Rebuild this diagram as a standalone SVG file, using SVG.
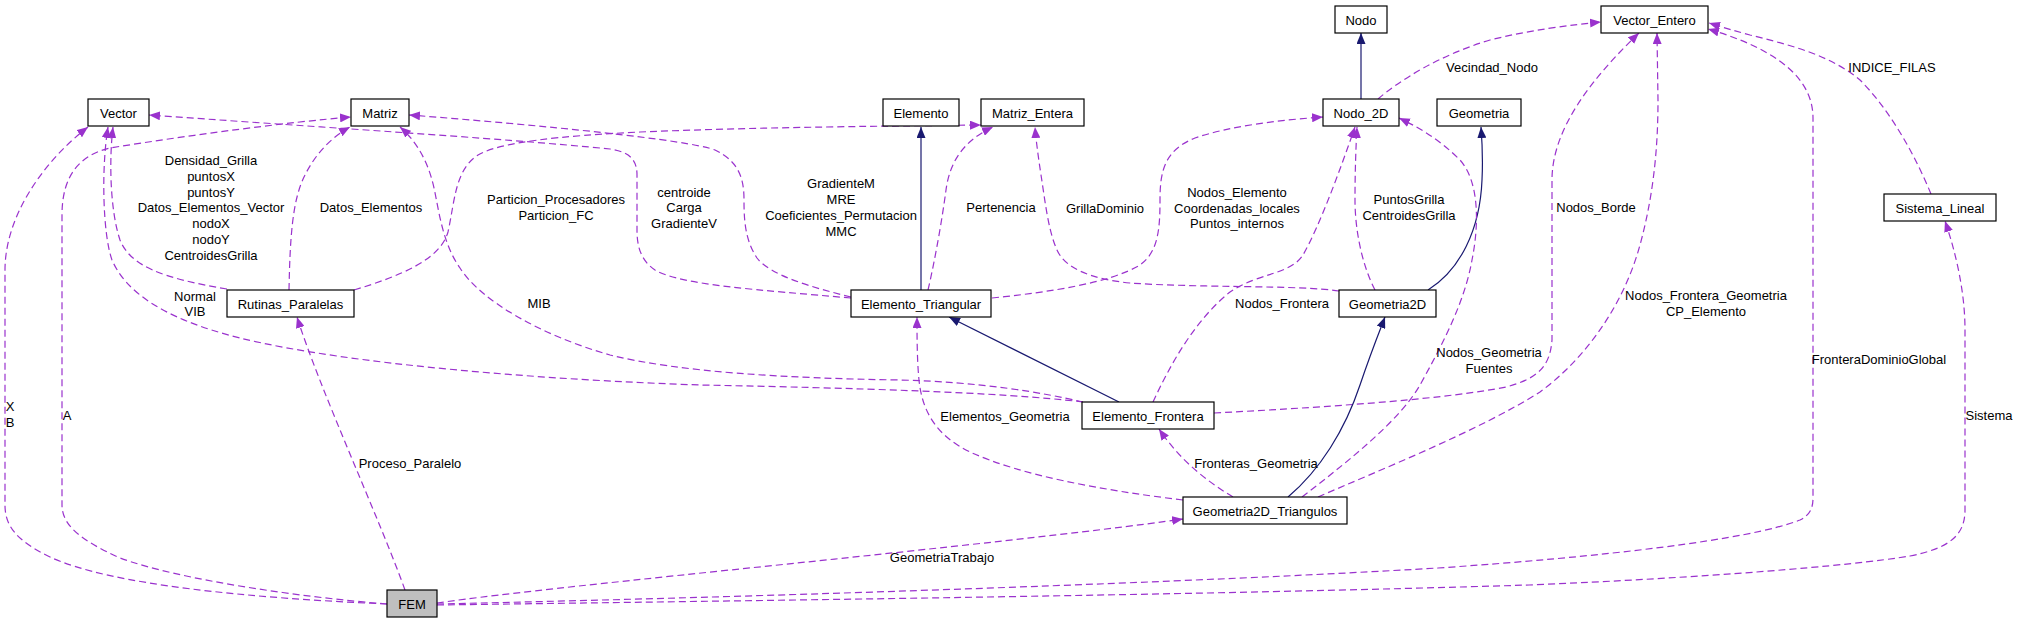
<svg xmlns="http://www.w3.org/2000/svg" width="2019" height="624" viewBox="0 0 2019 624">
<style>
text{font-family:"Liberation Sans",Arial,sans-serif;font-size:13px;fill:#000;text-anchor:middle}
.n rect{fill:#fff;stroke:#000;stroke-width:1.2}
.n .sh{fill:none;stroke:#808080;stroke-width:1.2}
.u{fill:none;stroke:#9a32cd;stroke-width:1.2;stroke-dasharray:7,4;marker-end:url(#ap)}
.i{fill:none;stroke:#191970;stroke-width:1.2;marker-end:url(#an)}
</style>
<defs>
<marker id="ap" viewBox="0 0 11 9" refX="11" refY="4.5" markerWidth="11" markerHeight="9" markerUnits="userSpaceOnUse" orient="auto"><path d="M0,0 L11,4.5 L0,9 z" fill="#9a32cd"/></marker>
<marker id="an" viewBox="0 0 11 9" refX="11" refY="4.5" markerWidth="11" markerHeight="9" markerUnits="userSpaceOnUse" orient="auto"><path d="M0,0 L11,4.5 L0,9 z" fill="#191970"/></marker>
</defs>
<rect width="2019" height="624" fill="#fff"/>
<g id="edges">
<g><path class="u" d="M387,604 C250,598 110,585 50,557 C15,540 5,525 5,505 L5,270 C5,215 45,160 88,127"/><text x="10" y="411">X</text><text x="10" y="427">B</text></g>
<g><path class="u" d="M387,604 C300,597 180,580 120,558 C80,540 62,525 62,505 L62,215 C62,175 80,155 110,148 C190,135 290,122 351,117"/><text x="67" y="420">A</text></g>
<g><path class="u" d="M405,590 C380,520 320,390 297,317"/><text x="410" y="468">Proceso_Paralelo</text></g>
<g><path class="u" d="M437,603 C560,585 1000,545 1183,519"/><text x="942" y="562">GeometriaTrabajo</text></g>
<g><path class="u" d="M437,604 C800,596 1200,582 1438,568 C1600,557 1750,540 1800,520 C1810,515 1813,508 1813,498 L1813,118 C1813,80 1780,50 1708,29"/><text x="1879" y="364">FronteraDominioGlobal</text></g>
<g><path class="u" d="M437,605 C800,600 1200,595 1529,585 C1700,578 1850,566 1910,556 C1950,548 1965,535 1965,510 L1965,330 C1965,290 1955,250 1945,221"/><text x="1989" y="420">Sistema</text></g>
<g><path class="u" d="M227,289 C160,278 130,265 120,240 C110,210 109,160 113,127"/><text x="211" y="165">Densidad_Grilla</text><text x="211" y="181">puntosX</text><text x="211" y="197">puntosY</text><text x="211" y="212">Datos_Elementos_Vector</text><text x="211" y="228">nodoX</text><text x="211" y="244">nodoY</text><text x="211" y="260">CentroidesGrilla</text></g>
<g><path class="u" d="M289,290 C290,240 292,200 305,175 C315,155 330,138 350,127"/><text x="371" y="212">Datos_Elementos</text></g>
<g><path class="u" d="M354,290 C400,276 440,260 448,232 C455,200 455,170 478,155 C500,142 560,136 640,132 C760,127 900,126 981,125"/><text x="556" y="204">Particion_Procesadores</text><text x="556" y="220">Particion_FC</text></g>
<g><path class="u" d="M851,298 C760,290 680,285 655,270 C640,260 637,245 637,230 L637,175 C637,160 630,152 610,149 C500,138 300,126 149,115"/><text x="684" y="197">centroide</text><text x="684" y="212">Carga</text><text x="684" y="228">GradienteV</text></g>
<g><path class="u" d="M851,297 C810,287 770,275 757,258 C745,240 744,220 744,200 C744,180 740,162 715,150 C690,140 540,125 409,115"/><text x="841" y="188">GradienteM</text><text x="841" y="204">MRE</text><text x="841" y="220">Coeficientes_Permutacion</text><text x="841" y="236">MMC</text></g>
<g><path class="u" d="M928,290 C935,260 942,220 946,190 C950,160 965,140 993,127"/><text x="1001" y="212">Pertenencia</text></g>
<g><path class="u" d="M992,298 C1050,292 1110,283 1140,265 C1158,252 1160,230 1160,200 C1160,170 1165,150 1195,138 C1230,126 1280,120 1323,117"/><text x="1237" y="197">Nodos_Elemento</text><text x="1237" y="213">Coordenadas_locales</text><text x="1237" y="228">Puntos_internos</text></g>
<g><path class="i" d="M921,290 L921,127"/></g>
<g><path class="i" d="M1119,402 L949,317"/></g>
<g><path class="u" d="M1083,402 C1000,392 850,388 700,385 C550,380 350,365 240,338 C160,318 125,290 112,260 C103,235 101,170 108,127"/><text x="195" y="301">Normal</text><text x="195" y="316">VIB</text></g>
<g><path class="u" d="M1083,402 C1040,392 980,382 900,380 C780,378 680,372 610,355 C540,335 480,300 460,268 C440,240 438,200 432,180 C426,158 415,140 400,127"/><text x="539" y="308">MIB</text></g>
<g><path class="u" d="M1153,402 C1170,365 1195,320 1230,292 C1260,272 1290,275 1303,255 C1320,225 1340,170 1355,127"/><text x="1282" y="308">Nodos_Frontera</text></g>
<g><path class="u" d="M1214,413 C1350,406 1450,398 1506,387 C1540,378 1550,365 1552,340 L1552,180 C1552,130 1590,80 1639,33"/><text x="1596" y="212">Nodos_Borde</text></g>
<g><path class="i" d="M1428,290 C1460,270 1480,230 1482,180 C1483,160 1482,140 1481,127"/></g>
<g><path class="u" d="M1339,291 C1300,285 1200,288 1130,283 C1090,279 1065,268 1057,250 C1048,230 1045,200 1041,175 C1038,155 1036,140 1035,127"/><text x="1105" y="213">GrillaDominio</text></g>
<g><path class="u" d="M1375,290 C1362,265 1355,230 1355,200 C1355,170 1356,145 1357,127"/><text x="1409" y="204">PuntosGrilla</text><text x="1409" y="220">CentroidesGrilla</text></g>
<g><path class="i" d="M1288,497 C1320,470 1345,430 1360,385 C1370,355 1378,335 1385,317"/></g>
<g><path class="u" d="M1183,500 C1100,490 1020,475 970,452 C935,435 922,410 919,380 C917,360 917,335 917,317"/><text x="1005" y="421">Elementos_Geometria</text></g>
<g><path class="u" d="M1233,497 C1205,480 1180,460 1159,429"/><text x="1256" y="468">Fronteras_Geometria</text></g>
<g><path class="u" d="M1302,497 C1350,460 1400,420 1420,385 C1445,340 1465,300 1472,260 C1480,220 1478,180 1460,160 C1440,140 1420,128 1399,118"/><text x="1489" y="357">Nodos_Geometria</text><text x="1489" y="373">Fuentes</text></g>
<g><path class="u" d="M1318,497 C1380,470 1480,430 1540,392 C1590,355 1625,300 1640,245 C1655,190 1658,140 1658,100 L1657,33"/><text x="1706" y="300">Nodos_Frontera_Geometria</text><text x="1706" y="316">CP_Elemento</text></g>
<g><path class="i" d="M1361,99 L1361,33"/></g>
<g><path class="u" d="M1378,99 C1400,80 1440,55 1490,40 C1530,30 1570,25 1601,22"/><text x="1492" y="72">Vecindad_Nodo</text></g>
<g><path class="u" d="M1931,194 C1915,155 1890,110 1860,80 C1830,55 1790,45 1750,35 C1735,31 1722,27 1709,23"/><text x="1892" y="72">INDICE_FILAS</text></g>
</g>
<g id="node-Vector" class="n"><rect x="88" y="99" width="61" height="27"/><text x="118.5" y="117.5">Vector</text></g>
<g id="node-Matriz" class="n"><rect x="351" y="99" width="58" height="27"/><text x="380" y="117.5">Matriz</text></g>
<g id="node-Elemento" class="n"><rect x="883" y="99" width="76" height="27"/><text x="921" y="117.5">Elemento</text></g>
<g id="node-Matriz_Entera" class="n"><rect x="981" y="99" width="103" height="27"/><text x="1032.5" y="117.5">Matriz_Entera</text></g>
<g id="node-Nodo" class="n"><rect x="1335" y="6" width="52" height="27"/><text x="1361" y="24.5">Nodo</text></g>
<g id="node-Vector_Entero" class="n"><rect x="1601" y="6" width="107" height="27"/><text x="1654.5" y="24.5">Vector_Entero</text></g>
<g id="node-Nodo_2D" class="n"><rect x="1323" y="99" width="76" height="27"/><text x="1361" y="117.5">Nodo_2D</text></g>
<g id="node-Geometria" class="n"><rect x="1437" y="99" width="84" height="27"/><text x="1479" y="117.5">Geometria</text></g>
<g id="node-Sistema_Lineal" class="n"><rect x="1884" y="194" width="112" height="27"/><text x="1940" y="212.5">Sistema_Lineal</text></g>
<g id="node-Rutinas_Paralelas" class="n"><rect x="227" y="290" width="127" height="27"/><text x="290.5" y="308.5">Rutinas_Paralelas</text></g>
<g id="node-Elemento_Triangular" class="n"><rect x="851" y="290" width="140" height="27"/><text x="921" y="308.5">Elemento_Triangular</text></g>
<g id="node-Geometria2D" class="n"><rect x="1339" y="290" width="97" height="27"/><text x="1387.5" y="308.5">Geometria2D</text></g>
<g id="node-Elemento_Frontera" class="n"><rect x="1082" y="402" width="132" height="27"/><text x="1148" y="420.5">Elemento_Frontera</text></g>
<g id="node-Geometria2D_Triangulos" class="n"><rect x="1183" y="497" width="164" height="27"/><text x="1265" y="515.5">Geometria2D_Triangulos</text></g>
<g id="node-FEM" class="n"><rect x="387" y="590" width="50" height="27" style="fill:#bfbfbf"/><text x="412" y="608.5">FEM</text></g>
</svg>
